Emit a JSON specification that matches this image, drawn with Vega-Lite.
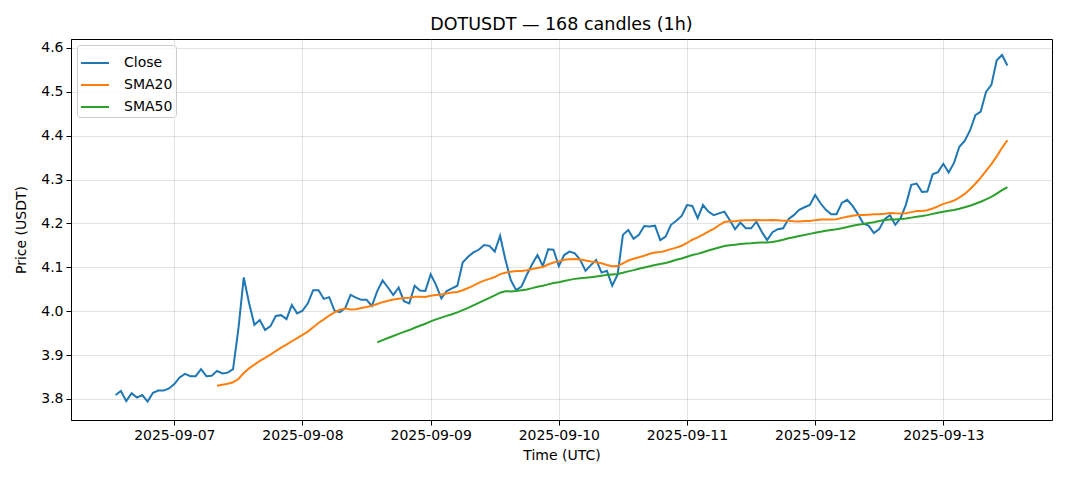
{
"$schema": "https://vega.github.io/schema/vega-lite/v6.json",
"width": 981, "height": 381,
"autosize": {"type": "none"},
"padding": {"left": 71, "top": 39, "right": 16, "bottom": 61},
"title": {"text": "DOTUSDT — 168 candles (1h)", "fontSize": 17.5, "font": "DejaVu Sans", "fontWeight": "normal", "offset": 6, "color": "#000000", "anchor": "middle"},
"data": {"values": [
{"t":"2025-09-06T13:00:00Z","Close":3.809},
{"t":"2025-09-06T14:00:00Z","Close":3.818},
{"t":"2025-09-06T15:00:00Z","Close":3.795},
{"t":"2025-09-06T16:00:00Z","Close":3.813},
{"t":"2025-09-06T17:00:00Z","Close":3.803},
{"t":"2025-09-06T18:00:00Z","Close":3.809},
{"t":"2025-09-06T19:00:00Z","Close":3.794},
{"t":"2025-09-06T20:00:00Z","Close":3.814},
{"t":"2025-09-06T21:00:00Z","Close":3.819},
{"t":"2025-09-06T22:00:00Z","Close":3.819},
{"t":"2025-09-06T23:00:00Z","Close":3.824},
{"t":"2025-09-07T00:00:00Z","Close":3.834},
{"t":"2025-09-07T01:00:00Z","Close":3.849},
{"t":"2025-09-07T02:00:00Z","Close":3.857},
{"t":"2025-09-07T03:00:00Z","Close":3.852},
{"t":"2025-09-07T04:00:00Z","Close":3.852},
{"t":"2025-09-07T05:00:00Z","Close":3.868},
{"t":"2025-09-07T06:00:00Z","Close":3.852},
{"t":"2025-09-07T07:00:00Z","Close":3.853},
{"t":"2025-09-07T08:00:00Z","Close":3.864,"SMA20":3.8299},
{"t":"2025-09-07T09:00:00Z","Close":3.858,"SMA20":3.8324},
{"t":"2025-09-07T10:00:00Z","Close":3.860,"SMA20":3.8345},
{"t":"2025-09-07T11:00:00Z","Close":3.868,"SMA20":3.8381},
{"t":"2025-09-07T12:00:00Z","Close":3.960,"SMA20":3.8455},
{"t":"2025-09-07T13:00:00Z","Close":4.077,"SMA20":3.8592},
{"t":"2025-09-07T14:00:00Z","Close":4.018,"SMA20":3.8696},
{"t":"2025-09-07T15:00:00Z","Close":3.969,"SMA20":3.8784},
{"t":"2025-09-07T16:00:00Z","Close":3.980,"SMA20":3.8867},
{"t":"2025-09-07T17:00:00Z","Close":3.957,"SMA20":3.8936},
{"t":"2025-09-07T18:00:00Z","Close":3.966,"SMA20":3.9009},
{"t":"2025-09-07T19:00:00Z","Close":3.989,"SMA20":3.9092},
{"t":"2025-09-07T20:00:00Z","Close":3.991,"SMA20":3.9170},
{"t":"2025-09-07T21:00:00Z","Close":3.982,"SMA20":3.9237},
{"t":"2025-09-07T22:00:00Z","Close":4.014,"SMA20":3.9315},
{"t":"2025-09-07T23:00:00Z","Close":3.995,"SMA20":3.9387},
{"t":"2025-09-08T00:00:00Z","Close":4.001,"SMA20":3.9461},
{"t":"2025-09-08T01:00:00Z","Close":4.018,"SMA20":3.9536},
{"t":"2025-09-08T02:00:00Z","Close":4.048,"SMA20":3.9634},
{"t":"2025-09-08T03:00:00Z","Close":4.048,"SMA20":3.9732},
{"t":"2025-09-08T04:00:00Z","Close":4.028,"SMA20":3.9814},
{"t":"2025-09-08T05:00:00Z","Close":4.032,"SMA20":3.9901},
{"t":"2025-09-08T06:00:00Z","Close":4.001,"SMA20":3.9971},
{"t":"2025-09-08T07:00:00Z","Close":3.998,"SMA20":4.0036},
{"t":"2025-09-08T08:00:00Z","Close":4.007,"SMA20":4.0060},
{"t":"2025-09-08T09:00:00Z","Close":4.037,"SMA20":4.0040},
{"t":"2025-09-08T10:00:00Z","Close":4.031,"SMA20":4.0046},
{"t":"2025-09-08T11:00:00Z","Close":4.026,"SMA20":4.0075},
{"t":"2025-09-08T12:00:00Z","Close":4.026,"SMA20":4.0098},
{"t":"2025-09-08T13:00:00Z","Close":4.012,"SMA20":4.0125},
{"t":"2025-09-08T14:00:00Z","Close":4.046,"SMA20":4.0165,"SMA50":3.9288},
{"t":"2025-09-08T15:00:00Z","Close":4.070,"SMA20":4.0206,"SMA50":3.9340},
{"t":"2025-09-08T16:00:00Z","Close":4.054,"SMA20":4.0237,"SMA50":3.9388},
{"t":"2025-09-08T17:00:00Z","Close":4.037,"SMA20":4.0265,"SMA50":3.9436},
{"t":"2025-09-08T18:00:00Z","Close":4.054,"SMA20":4.0285,"SMA50":3.9484},
{"t":"2025-09-08T19:00:00Z","Close":4.023,"SMA20":4.0299,"SMA50":3.9528},
{"t":"2025-09-08T20:00:00Z","Close":4.018,"SMA20":4.0307,"SMA50":3.9570},
{"t":"2025-09-08T21:00:00Z","Close":4.058,"SMA20":4.0327,"SMA50":3.9623},
{"t":"2025-09-08T22:00:00Z","Close":4.047,"SMA20":4.0327,"SMA50":3.9669},
{"t":"2025-09-08T23:00:00Z","Close":4.046,"SMA20":4.0326,"SMA50":3.9715},
{"t":"2025-09-09T00:00:00Z","Close":4.084,"SMA20":4.0354,"SMA50":3.9768},
{"t":"2025-09-09T01:00:00Z","Close":4.060,"SMA20":4.0368,"SMA50":3.9815},
{"t":"2025-09-09T02:00:00Z","Close":4.029,"SMA20":4.0382,"SMA50":3.9854},
{"t":"2025-09-09T03:00:00Z","Close":4.046,"SMA20":4.0406,"SMA50":3.9893},
{"t":"2025-09-09T04:00:00Z","Close":4.052,"SMA20":4.0428,"SMA50":3.9932},
{"t":"2025-09-09T05:00:00Z","Close":4.058,"SMA20":4.0439,"SMA50":3.9974},
{"t":"2025-09-09T06:00:00Z","Close":4.111,"SMA20":4.0479,"SMA50":4.0025},
{"t":"2025-09-09T07:00:00Z","Close":4.124,"SMA20":4.0528,"SMA50":4.0077},
{"t":"2025-09-09T08:00:00Z","Close":4.134,"SMA20":4.0582,"SMA50":4.0133},
{"t":"2025-09-09T09:00:00Z","Close":4.140,"SMA20":4.0646,"SMA50":4.0190},
{"t":"2025-09-09T10:00:00Z","Close":4.151,"SMA20":4.0698,"SMA50":4.0248},
{"t":"2025-09-09T11:00:00Z","Close":4.149,"SMA20":4.0738,"SMA50":4.0306},
{"t":"2025-09-09T12:00:00Z","Close":4.136,"SMA20":4.0779,"SMA50":4.0361},
{"t":"2025-09-09T13:00:00Z","Close":4.172,"SMA20":4.0846,"SMA50":4.0422},
{"t":"2025-09-09T14:00:00Z","Close":4.117,"SMA20":4.0878,"SMA50":4.0453},
{"t":"2025-09-09T15:00:00Z","Close":4.071,"SMA20":4.0902,"SMA50":4.0452},
{"t":"2025-09-09T16:00:00Z","Close":4.048,"SMA20":4.0917,"SMA50":4.0458},
{"t":"2025-09-09T17:00:00Z","Close":4.056,"SMA20":4.0916,"SMA50":4.0476},
{"t":"2025-09-09T18:00:00Z","Close":4.083,"SMA20":4.0934,"SMA50":4.0496},
{"t":"2025-09-09T19:00:00Z","Close":4.107,"SMA20":4.0964,"SMA50":4.0526},
{"t":"2025-09-09T20:00:00Z","Close":4.128,"SMA20":4.0986,"SMA50":4.0559},
{"t":"2025-09-09T21:00:00Z","Close":4.103,"SMA20":4.1008,"SMA50":4.0581},
{"t":"2025-09-09T22:00:00Z","Close":4.141,"SMA20":4.1064,"SMA50":4.0611},
{"t":"2025-09-09T23:00:00Z","Close":4.140,"SMA20":4.1111,"SMA50":4.0643},
{"t":"2025-09-10T00:00:00Z","Close":4.103,"SMA20":4.1136,"SMA50":4.0661},
{"t":"2025-09-10T01:00:00Z","Close":4.128,"SMA20":4.1171,"SMA50":4.0687},
{"t":"2025-09-10T02:00:00Z","Close":4.136,"SMA20":4.1184,"SMA50":4.0714},
{"t":"2025-09-10T03:00:00Z","Close":4.132,"SMA20":4.1188,"SMA50":4.0737},
{"t":"2025-09-10T04:00:00Z","Close":4.117,"SMA20":4.1179,"SMA50":4.0751},
{"t":"2025-09-10T05:00:00Z","Close":4.092,"SMA20":4.1155,"SMA50":4.0760},
{"t":"2025-09-10T06:00:00Z","Close":4.105,"SMA20":4.1132,"SMA50":4.0775},
{"t":"2025-09-10T07:00:00Z","Close":4.117,"SMA20":4.1116,"SMA50":4.0792},
{"t":"2025-09-10T08:00:00Z","Close":4.088,"SMA20":4.1092,"SMA50":4.0810},
{"t":"2025-09-10T09:00:00Z","Close":4.092,"SMA20":4.1052,"SMA50":4.0828},
{"t":"2025-09-10T10:00:00Z","Close":4.058,"SMA20":4.1023,"SMA50":4.0839},
{"t":"2025-09-10T11:00:00Z","Close":4.083,"SMA20":4.1029,"SMA50":4.0848},
{"t":"2025-09-10T12:00:00Z","Close":4.174,"SMA20":4.1092,"SMA50":4.0876},
{"t":"2025-09-10T13:00:00Z","Close":4.185,"SMA20":4.1156,"SMA50":4.0908},
{"t":"2025-09-10T14:00:00Z","Close":4.165,"SMA20":4.1197,"SMA50":4.0936},
{"t":"2025-09-10T15:00:00Z","Close":4.174,"SMA20":4.1231,"SMA50":4.0968},
{"t":"2025-09-10T16:00:00Z","Close":4.194,"SMA20":4.1264,"SMA50":4.0998},
{"t":"2025-09-10T17:00:00Z","Close":4.193,"SMA20":4.1309,"SMA50":4.1023},
{"t":"2025-09-10T18:00:00Z","Close":4.195,"SMA20":4.1336,"SMA50":4.1051},
{"t":"2025-09-10T19:00:00Z","Close":4.162,"SMA20":4.1347,"SMA50":4.1076},
{"t":"2025-09-10T20:00:00Z","Close":4.170,"SMA20":4.1380,"SMA50":4.1099},
{"t":"2025-09-10T21:00:00Z","Close":4.197,"SMA20":4.1415,"SMA50":4.1134},
{"t":"2025-09-10T22:00:00Z","Close":4.206,"SMA20":4.1450,"SMA50":4.1171},
{"t":"2025-09-10T23:00:00Z","Close":4.217,"SMA20":4.1492,"SMA50":4.1203},
{"t":"2025-09-11T00:00:00Z","Close":4.242,"SMA20":4.1555,"SMA50":4.1242},
{"t":"2025-09-11T01:00:00Z","Close":4.240,"SMA20":4.1629,"SMA50":4.1281},
{"t":"2025-09-11T02:00:00Z","Close":4.212,"SMA20":4.1682,"SMA50":4.1307},
{"t":"2025-09-11T03:00:00Z","Close":4.242,"SMA20":4.1745,"SMA50":4.1343},
{"t":"2025-09-11T04:00:00Z","Close":4.227,"SMA20":4.1814,"SMA50":4.1383},
{"t":"2025-09-11T05:00:00Z","Close":4.219,"SMA20":4.1878,"SMA50":4.1417},
{"t":"2025-09-11T06:00:00Z","Close":4.223,"SMA20":4.1960,"SMA50":4.1451},
{"t":"2025-09-11T07:00:00Z","Close":4.227,"SMA20":4.2032,"SMA50":4.1485},
{"t":"2025-09-11T08:00:00Z","Close":4.208,"SMA20":4.2049,"SMA50":4.1505},
{"t":"2025-09-11T09:00:00Z","Close":4.187,"SMA20":4.2050,"SMA50":4.1517},
{"t":"2025-09-11T10:00:00Z","Close":4.202,"SMA20":4.2069,"SMA50":4.1531},
{"t":"2025-09-11T11:00:00Z","Close":4.189,"SMA20":4.2076,"SMA50":4.1541},
{"t":"2025-09-11T12:00:00Z","Close":4.189,"SMA20":4.2074,"SMA50":4.1548},
{"t":"2025-09-11T13:00:00Z","Close":4.204,"SMA20":4.2079,"SMA50":4.1559},
{"t":"2025-09-11T14:00:00Z","Close":4.181,"SMA20":4.2072,"SMA50":4.1568},
{"t":"2025-09-11T15:00:00Z","Close":4.162,"SMA20":4.2072,"SMA50":4.1566},
{"t":"2025-09-11T16:00:00Z","Close":4.180,"SMA20":4.2077,"SMA50":4.1579},
{"t":"2025-09-11T17:00:00Z","Close":4.187,"SMA20":4.2072,"SMA50":4.1602},
{"t":"2025-09-11T18:00:00Z","Close":4.189,"SMA20":4.2064,"SMA50":4.1630},
{"t":"2025-09-11T19:00:00Z","Close":4.210,"SMA20":4.2060,"SMA50":4.1661},
{"t":"2025-09-11T20:00:00Z","Close":4.219,"SMA20":4.2049,"SMA50":4.1688},
{"t":"2025-09-11T21:00:00Z","Close":4.231,"SMA20":4.2044,"SMA50":4.1713},
{"t":"2025-09-11T22:00:00Z","Close":4.237,"SMA20":4.2057,"SMA50":4.1735},
{"t":"2025-09-11T23:00:00Z","Close":4.242,"SMA20":4.2057,"SMA50":4.1763},
{"t":"2025-09-12T00:00:00Z","Close":4.265,"SMA20":4.2076,"SMA50":4.1787},
{"t":"2025-09-12T01:00:00Z","Close":4.246,"SMA20":4.2089,"SMA50":4.1809},
{"t":"2025-09-12T02:00:00Z","Close":4.231,"SMA20":4.2093,"SMA50":4.1834},
{"t":"2025-09-12T03:00:00Z","Close":4.221,"SMA20":4.2090,"SMA50":4.1853},
{"t":"2025-09-12T04:00:00Z","Close":4.221,"SMA20":4.2097,"SMA50":4.1870},
{"t":"2025-09-12T05:00:00Z","Close":4.247,"SMA20":4.2127,"SMA50":4.1893},
{"t":"2025-09-12T06:00:00Z","Close":4.254,"SMA20":4.2153,"SMA50":4.1920},
{"t":"2025-09-12T07:00:00Z","Close":4.240,"SMA20":4.2178,"SMA50":4.1950},
{"t":"2025-09-12T08:00:00Z","Close":4.222,"SMA20":4.2195,"SMA50":4.1973},
{"t":"2025-09-12T09:00:00Z","Close":4.200,"SMA20":4.2193,"SMA50":4.1990},
{"t":"2025-09-12T10:00:00Z","Close":4.195,"SMA20":4.2200,"SMA50":4.2011},
{"t":"2025-09-12T11:00:00Z","Close":4.178,"SMA20":4.2208,"SMA50":4.2028},
{"t":"2025-09-12T12:00:00Z","Close":4.187,"SMA20":4.2211,"SMA50":4.2054},
{"t":"2025-09-12T13:00:00Z","Close":4.210,"SMA20":4.2223,"SMA50":4.2080},
{"t":"2025-09-12T14:00:00Z","Close":4.219,"SMA20":4.2238,"SMA50":4.2089},
{"t":"2025-09-12T15:00:00Z","Close":4.197,"SMA20":4.2231,"SMA50":4.2091},
{"t":"2025-09-12T16:00:00Z","Close":4.212,"SMA20":4.2228,"SMA50":4.2100},
{"t":"2025-09-12T17:00:00Z","Close":4.243,"SMA20":4.2234,"SMA50":4.2114},
{"t":"2025-09-12T18:00:00Z","Close":4.288,"SMA20":4.2259,"SMA50":4.2133},
{"t":"2025-09-12T19:00:00Z","Close":4.291,"SMA20":4.2284,"SMA50":4.2153},
{"t":"2025-09-12T20:00:00Z","Close":4.272,"SMA20":4.2287,"SMA50":4.2168},
{"t":"2025-09-12T21:00:00Z","Close":4.273,"SMA20":4.2301,"SMA50":4.2190},
{"t":"2025-09-12T22:00:00Z","Close":4.312,"SMA20":4.2341,"SMA50":4.2219},
{"t":"2025-09-12T23:00:00Z","Close":4.317,"SMA20":4.2389,"SMA50":4.2243},
{"t":"2025-09-13T00:00:00Z","Close":4.336,"SMA20":4.2447,"SMA50":4.2269},
{"t":"2025-09-13T01:00:00Z","Close":4.316,"SMA20":4.2481,"SMA50":4.2288},
{"t":"2025-09-13T02:00:00Z","Close":4.338,"SMA20":4.2523,"SMA50":4.2308},
{"t":"2025-09-13T03:00:00Z","Close":4.375,"SMA20":4.2591,"SMA50":4.2335},
{"t":"2025-09-13T04:00:00Z","Close":4.388,"SMA20":4.2674,"SMA50":4.2370},
{"t":"2025-09-13T05:00:00Z","Close":4.412,"SMA20":4.2780,"SMA50":4.2404},
{"t":"2025-09-13T06:00:00Z","Close":4.447,"SMA20":4.2906,"SMA50":4.2448},
{"t":"2025-09-13T07:00:00Z","Close":4.455,"SMA20":4.3044,"SMA50":4.2495},
{"t":"2025-09-13T08:00:00Z","Close":4.500,"SMA20":4.3201,"SMA50":4.2550},
{"t":"2025-09-13T09:00:00Z","Close":4.516,"SMA20":4.3354,"SMA50":4.2608},
{"t":"2025-09-13T10:00:00Z","Close":4.572,"SMA20":4.3530,"SMA50":4.2681},
{"t":"2025-09-13T11:00:00Z","Close":4.584,"SMA20":4.3724,"SMA50":4.2758},
{"t":"2025-09-13T12:00:00Z","Close":4.560,"SMA20":4.3898,"SMA50":4.2829}
]},
"transform": [
  {"fold": ["Close", "SMA20", "SMA50"], "as": ["series", "value"]},
  {"filter": "isValid(datum.value)"}
],
"mark": {"type": "line", "strokeWidth": 2},
"encoding": {
  "x": {"field": "t", "type": "temporal",
    "scale": {"type": "utc", "domain": [
      {"year": 2025, "month": 9, "date": 6, "hours": 4, "minutes": 39, "utc": true},
      {"year": 2025, "month": 9, "date": 13, "hours": 20, "minutes": 21, "utc": true}]},
    "axis": {"title": "Time (UTC)", "labelExpr": "utcFormat(datum.value, '%Y-%m-%d')",
      "values": [
        {"year": 2025, "month": 9, "date": 7, "utc": true},
        {"year": 2025, "month": 9, "date": 8, "utc": true},
        {"year": 2025, "month": 9, "date": 9, "utc": true},
        {"year": 2025, "month": 9, "date": 10, "utc": true},
        {"year": 2025, "month": 9, "date": 11, "utc": true},
        {"year": 2025, "month": 9, "date": 12, "utc": true},
        {"year": 2025, "month": 9, "date": 13, "utc": true}],
      "titlePadding": 6}},
  "y": {"field": "value", "type": "quantitative",
    "scale": {"domain": [3.752, 4.6205], "zero": false, "nice": false},
    "axis": {"title": "Price (USDT)", "values": [3.8, 3.9, 4.0, 4.1, 4.2, 4.3, 4.4, 4.5, 4.6], "format": ".1f", "titlePadding": 12}},
  "color": {"field": "series", "type": "nominal",
    "scale": {"domain": ["Close", "SMA20", "SMA50"], "range": ["#1f77b4", "#ff7f0e", "#2ca02c"]},
    "legend": {"title": null, "orient": "top-left", "offset": 6, "symbolType": "stroke", "symbolSize": 784, "symbolStrokeWidth": 2,
      "labelFontSize": 14, "labelFont": "DejaVu Sans", "labelColor": "#000000", "padding": 3, "rowPadding": 0,
      "fillColor": "rgba(255,255,255,0.8)", "strokeColor": "#cccccc", "cornerRadius": 3, "labelOffset": 14}}
},
"config": {
  "view": {"stroke": "#000000", "strokeWidth": 1},
  "font": "DejaVu Sans",
  "axis": {"labelFont": "DejaVu Sans", "titleFont": "DejaVu Sans", "labelFontSize": 14, "titleFontSize": 14,
    "titleFontWeight": "normal", "labelColor": "#000000", "titleColor": "#000000",
    "domainColor": "#000000", "tickColor": "#000000", "tickSize": 5, "labelPadding": 3,
    "grid": true, "gridColor": "#b0b0b0", "gridOpacity": 0.35, "gridWidth": 1}
}
}
